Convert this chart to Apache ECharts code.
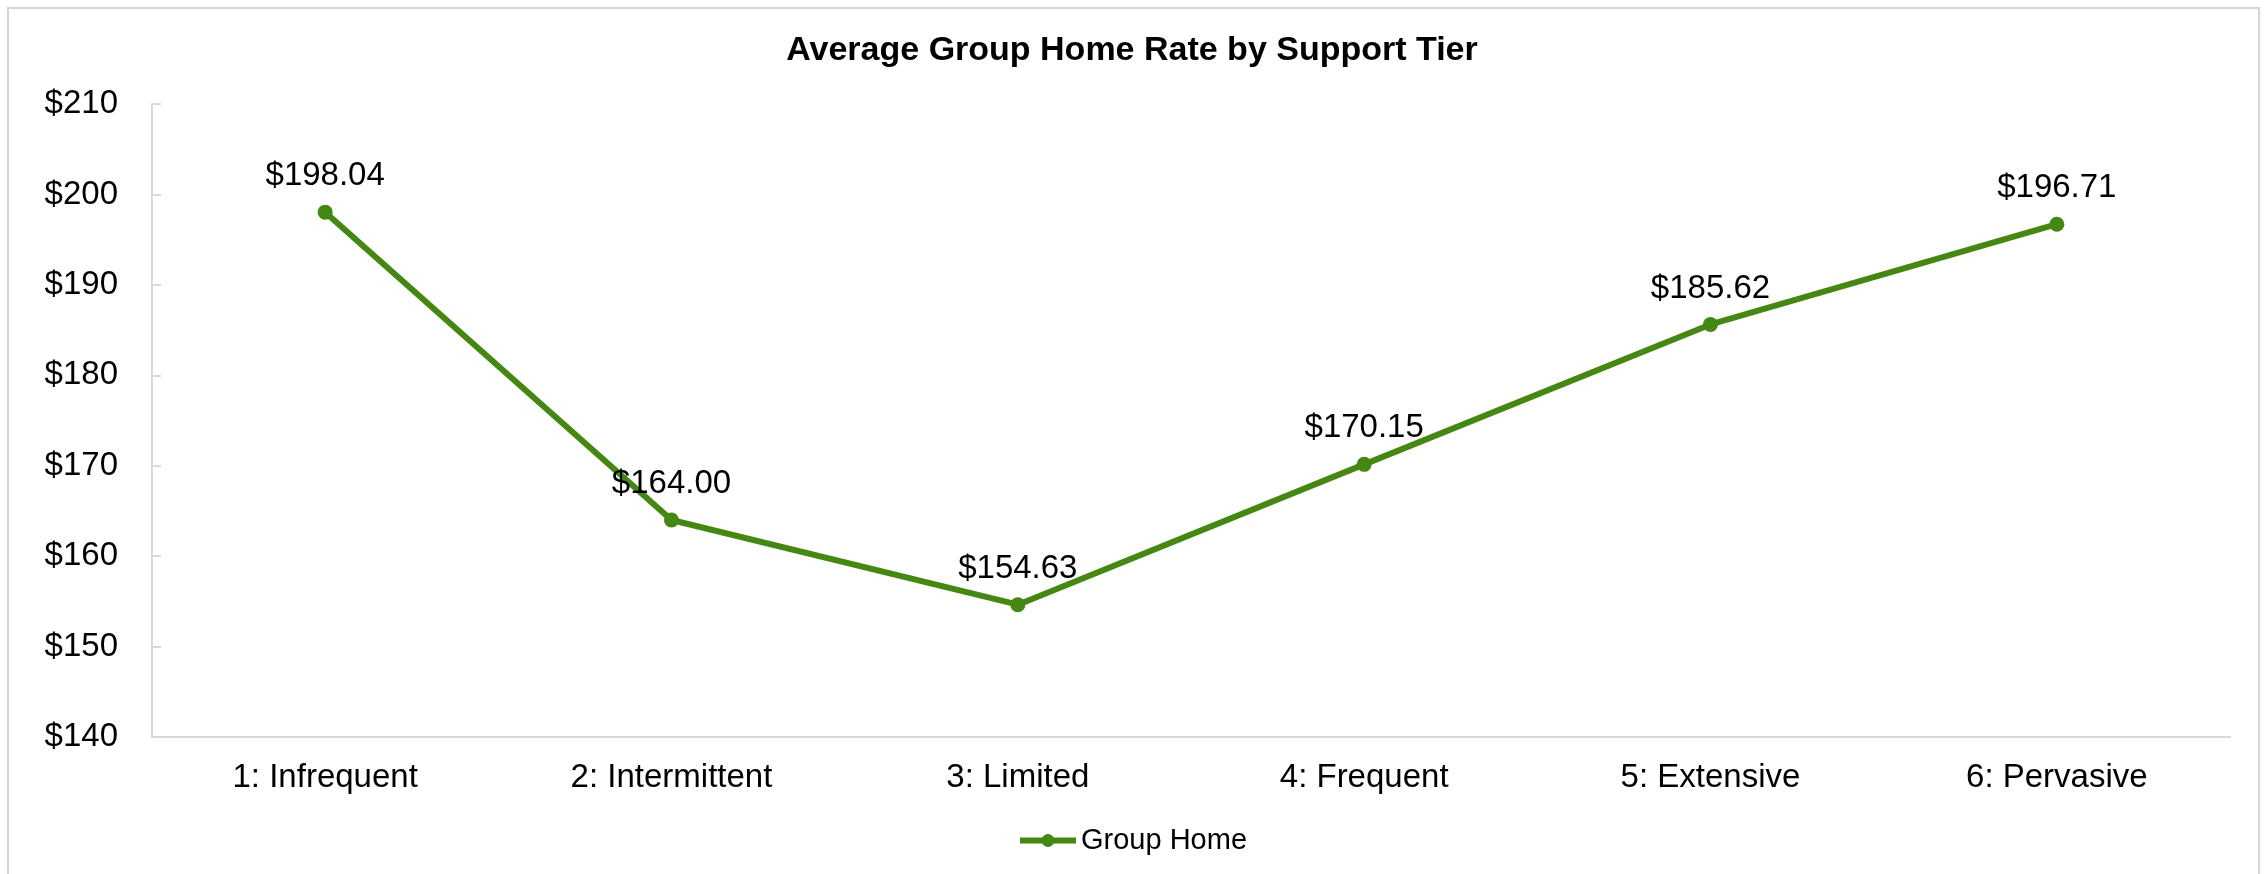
<!DOCTYPE html>
<html>
<head>
<meta charset="utf-8">
<script src="https://cdn.jsdelivr.net/npm/echarts@6/dist/echarts.min.js"></script>
<style>
    html, body { margin: 0; padding: 0; background: #fff; overflow: hidden; }
    #frame {
        position: absolute; left: 7px; top: 7px; width: 2249px; height: 900px;
        border: 2px solid #d4d4d4;
    }
    #linechart { position: absolute; left: 0; top: 0; width: 2264px; height: 874px; }
</style>
</head>
<body>
<div id="frame"></div>
<div id="linechart"></div>
<script>
    // support tiers and average daily rate
    let tiers = ['1: Infrequent', '2: Intermittent', '3: Limited', '4: Frequent', '5: Extensive', '6: Pervasive']
    let groupHome = [198.04, 164.00, 154.63, 170.15, 185.62, 196.71]
    let yTicks = [140, 210, 10] // min, max, step

    let green = '#448712'
    let font = '"Liberation Sans", Arial, sans-serif'

    let myChart = echarts.init(document.getElementById('linechart'))
    myChart.setOption({
        animation: false,
        title: {
            text: 'Average Group Home Rate by Support Tier',
            left: 'center',
            top: 29,
            textStyle: {
                fontFamily: font,
                fontSize: 34,
                fontWeight: 'bold',
                color: '#000'
            }
        },
        grid: {
            left: 152,
            right: 34,
            top: 104,
            bottom: 137
        },
        legend: {
            data: ['Group Home'],
            left: 'center',
            top: 821,
            itemWidth: 56,
            itemHeight: 16,
            lineStyle: { width: 6, color: green },
            itemStyle: { color: green },
            textStyle: {
                fontFamily: font,
                fontSize: 29,
                color: '#000'
            }
        },
        xAxis: {
            type: 'category',
            data: tiers,
            axisLine: { lineStyle: { color: '#d9d9d9', width: 2 } },
            axisTick: { show: false },
            axisLabel: {
                fontFamily: font,
                fontSize: 33,
                color: '#000',
                margin: 24
            }
        },
        yAxis: {
            type: 'value',
            min: yTicks[0],
            max: yTicks[1],
            interval: yTicks[2],
            splitLine: { show: false },
            axisLine: { show: true, lineStyle: { color: '#d9d9d9', width: 2 } },
            axisTick: { show: true, inside: true, length: 9, lineStyle: { color: '#d9d9d9', width: 2 } },
            axisLabel: {
                fontFamily: font,
                fontSize: 33,
                color: '#000',
                margin: 34,
                formatter: v => '$' + v
            }
        },
        series: [{
            name: 'Group Home',
            type: 'line',
            data: groupHome,
            symbol: 'circle',
            symbolSize: 15,
            lineStyle: { color: green, width: 6 },
            itemStyle: { color: green },
            label: {
                show: true,
                position: 'top',
                distance: 12,
                fontFamily: font,
                fontSize: 33,
                color: '#000',
                formatter: p => '$' + p.value.toFixed(2)
            }
        }]
    })
</script>
</body>
</html>
